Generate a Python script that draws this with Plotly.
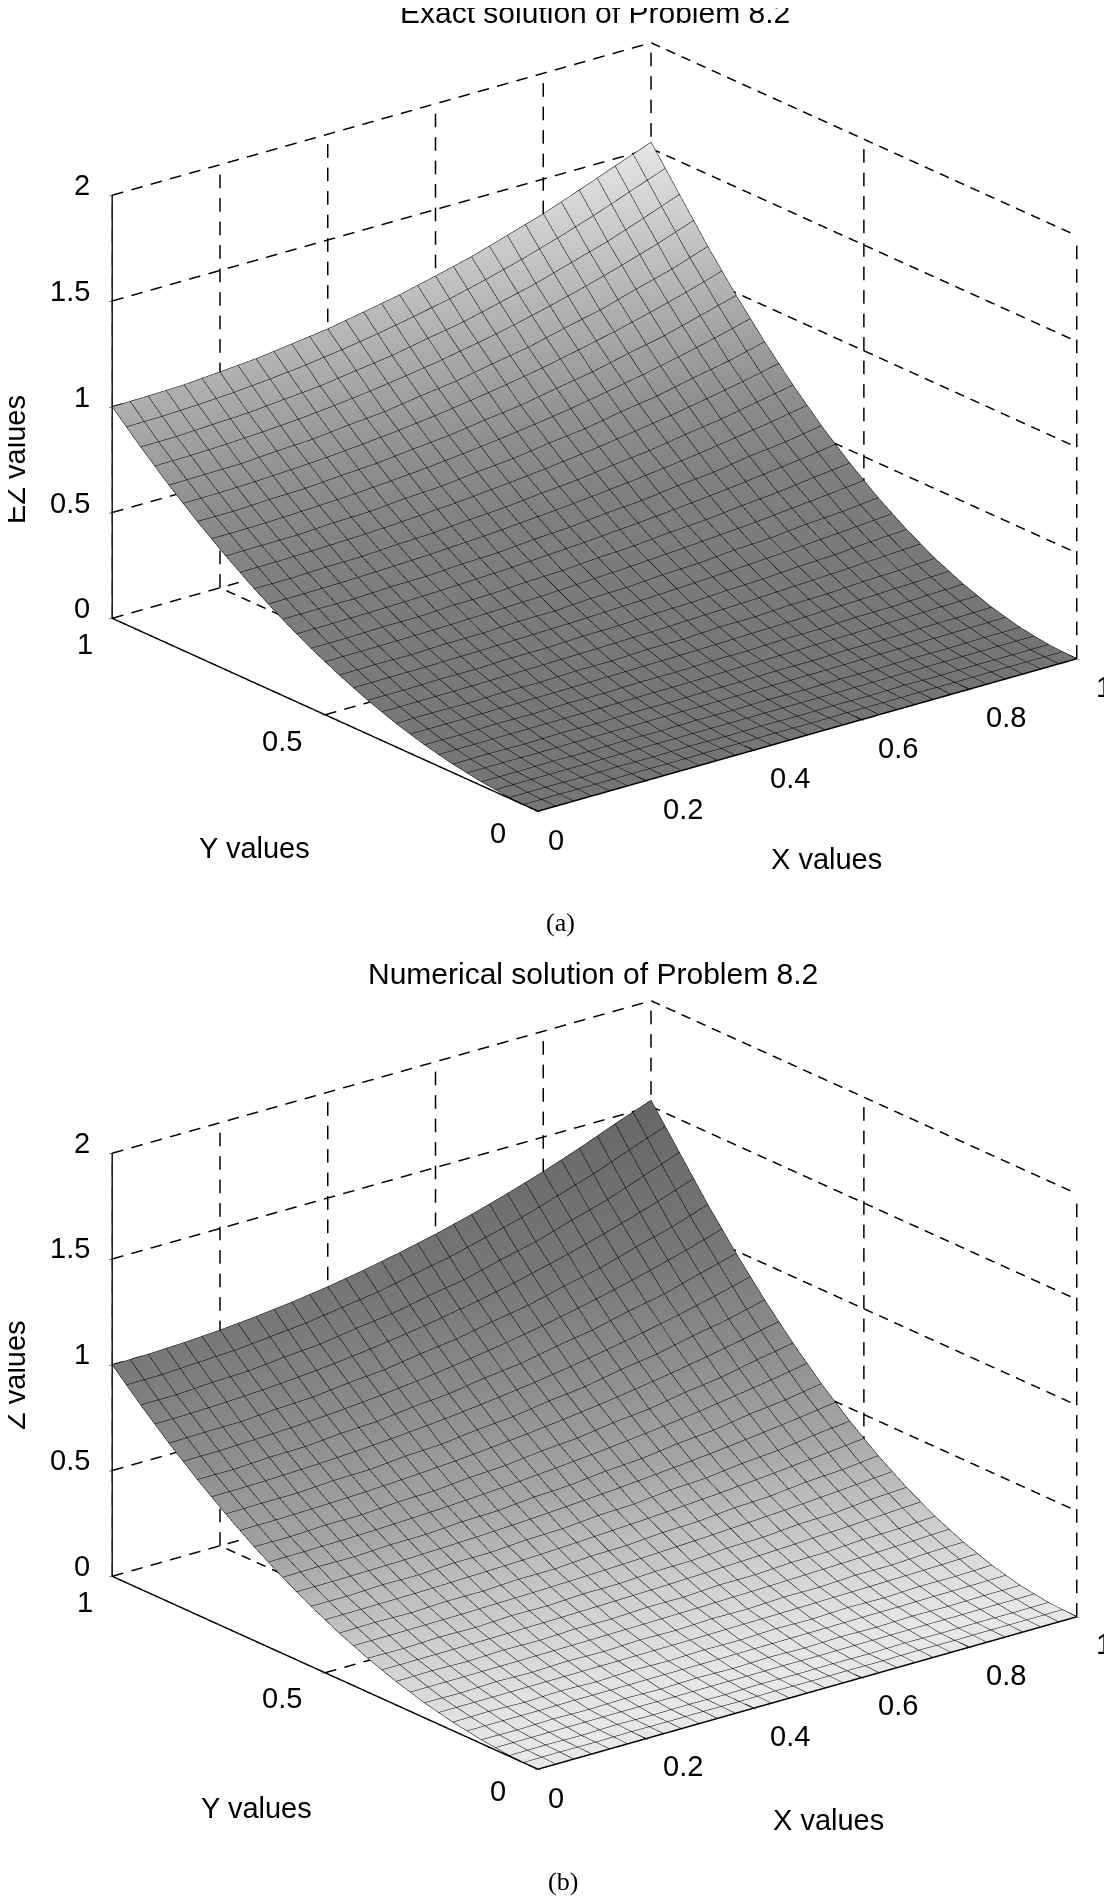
"""Exact and numerical solution surfaces of Problem 8.2."""

import plotly.graph_objects as go

X_NODES = [j / 15 for j in range(16)]
Y_NODES = [i / 15 for i in range(16)]
X_TICKS = [0, 0.2, 0.4, 0.6, 0.8, 1]
Y_TICKS = [0, 0.5, 1]
Z_TICKS = [0, 0.5, 1, 1.5, 2]

# values, rows run along y, columns along x
EXACT_Z = [
    [0.000] * 16,
    [.004, .005, .003, .006, .004, .006, .004, .006, .004, .006, .004, .007, .005, .007, .006, .007],
    [.018, .017, .019, .017, .020, .018, .021, .019, .022, .020, .023, .022, .025, .024, .027, .027],
    [.040, .042, .039, .043, .040, .044, .042, .045, .045, .049, .048, .053, .052, .057, .058, .062],
    [.071, .070, .074, .072, .076, .074, .079, .078, .083, .083, .089, .090, .097, .098, .105, .110],
    [.111, .113, .110, .115, .113, .119, .118, .125, .125, .134, .135, .144, .147, .157, .162, .171],
    [.160, .159, .163, .162, .168, .168, .175, .177, .185, .189, .199, .204, .216, .223, .237, .247],
    [.218, .220, .218, .224, .224, .232, .233, .244, .248, .260, .266, .281, .289, .307, .318, .336],
    [.284, .284, .289, .289, .297, .299, .309, .315, .328, .336, .352, .363, .382, .397, .419, .439],
    [.360, .362, .361, .369, .371, .382, .387, .402, .411, .429, .441, .463, .479, .506, .526, .555],
    [.444, .444, .450, .452, .462, .468, .482, .493, .511, .526, .549, .568, .596, .621, .654, .686],
    [.538, .540, .541, .551, .555, .570, .579, .599, .614, .639, .659, .691, .717, .754, .787, .830],
    [.640, .640, .648, .652, .665, .675, .694, .710, .735, .757, .789, .819, .858, .894, .941, .988],
    [.751, .754, .756, .768, .776, .795, .810, .836, .859, .892, .922, .964, 1.002, 1.053, 1.100, 1.159],
    [.871, .872, .881, .888, .904, .919, .944, .967, 1.000, 1.031, 1.073, 1.115, 1.167, 1.218, 1.280, 1.344],
    [1.000, 1.003, 1.008, 1.021, 1.035, 1.057, 1.080, 1.112, 1.145, 1.186, 1.229, 1.282, 1.336, 1.400, 1.466, 1.530],
]

# values, same grid, a little more uneven
NUMERICAL_Z = [
    [0.000] * 16,
    [.004, .006, .003, .007, .004, .006, .003, .007, .004, .006, .004, .008, .005, .007, .006, .007],
    [.018, .016, .020, .017, .021, .017, .022, .018, .023, .019, .024, .021, .026, .024, .027, .027],
    [.040, .043, .038, .044, .039, .045, .041, .046, .044, .050, .047, .054, .051, .058, .057, .062],
    [.071, .069, .075, .071, .077, .073, .080, .077, .084, .082, .090, .089, .098, .097, .106, .110],
    [.111, .114, .110, .116, .113, .120, .118, .126, .125, .135, .135, .145, .147, .158, .161, .171],
    [.160, .158, .164, .161, .169, .167, .176, .176, .186, .188, .200, .203, .217, .222, .238, .247],
    [.218, .221, .218, .225, .224, .233, .233, .245, .248, .261, .266, .282, .289, .308, .318, .336],
    [.284, .283, .290, .288, .298, .298, .310, .314, .329, .335, .353, .362, .383, .396, .420, .439],
    [.360, .363, .361, .370, .371, .383, .387, .403, .411, .430, .441, .464, .479, .507, .526, .555],
    [.444, .443, .451, .451, .463, .467, .483, .492, .512, .525, .550, .567, .597, .620, .655, .686],
    [.538, .541, .541, .552, .555, .571, .579, .600, .614, .640, .659, .692, .717, .755, .787, .830],
    [.640, .639, .649, .651, .666, .674, .695, .709, .736, .756, .790, .818, .859, .893, .942, .988],
    [.751, .755, .756, .769, .776, .796, .810, .837, .859, .893, .922, .965, 1.002, 1.054, 1.100, 1.159],
    [.871, .871, .882, .887, .905, .918, .945, .966, 1.001, 1.030, 1.074, 1.114, 1.168, 1.217, 1.281, 1.344],
    [1.000, 1.002, 1.009, 1.020, 1.036, 1.056, 1.081, 1.111, 1.146, 1.185, 1.230, 1.281, 1.337, 1.399, 1.467, 1.530],
]

EXACT_GRAYS = [[0.0, "#757575"], [0.3, "#808080"], [0.45, "#909090"], [0.65, "#b0b0b0"], [1.0, "#e8e8e8"]]
NUMERICAL_GRAYS = [[0.0, "#e8e8e8"], [0.065, "#d6d6d6"], [0.26, "#a6a6a6"], [0.45, "#8c8c8c"], [0.65, "#787878"], [1.0, "#666666"]]

EYE = dict(x=-0.70, y=-0.886, z=0.433)
FONT = "Liberation Sans, Arial, sans-serif"
TICK_SIZE = 29

# the page body keeps its 8px margin, so the figure is 8px short on each side
BODY = 8
WIDTH = 1104
HEIGHT = 1889


def grid_lines():
    xs, ys, zs = [], [], []

    # gl3d dashes scale with the line, so the dashes are cut here
    def add(a, b, periods):
        for k in range(periods):
            start = k / periods
            stop = (k + 0.58) / periods
            xs.extend([a[0] + (b[0] - a[0]) * start, a[0] + (b[0] - a[0]) * stop, None])
            ys.extend([a[1] + (b[1] - a[1]) * start, a[1] + (b[1] - a[1]) * stop, None])
            zs.extend([a[2] + (b[2] - a[2]) * start, a[2] + (b[2] - a[2]) * stop, None])

    for x in X_TICKS:
        add((x, 0, 0), (x, 1, 0), 28)
        add((x, 1, 0), (x, 1, 2), 18)
    for y in Y_TICKS:
        add((0, y, 0), (1, y, 0), 28)
        add((1, y, 0), (1, y, 2), 18)
    for z in Z_TICKS:
        add((0, 1, z), (1, 1, z), 28)
        add((1, 1, z), (1, 0, z), 28)
    return go.Scatter3d(
        x=xs, y=ys, z=zs, mode="lines", hoverinfo="skip", showlegend=False,
        line=dict(color="black", width=3),
    )


def surface(z_rows, grays):
    return go.Surface(
        x=X_NODES, y=Y_NODES, z=z_rows, colorscale=grays, cmin=0, cmax=1.543,
        showscale=False, hoverinfo="skip",
        lighting=dict(ambient=1, diffuse=0, specular=0, fresnel=0),
        contours=dict(
            x=dict(show=True, start=0, end=1, size=1 / 30, color="#000000", width=2),
            y=dict(show=True, start=0, end=1, size=1 / 30, color="#000000", width=4),
        ),
    )


def tick_text(x, y, z, text, dx, dy, anchor="center"):
    return dict(
        x=x, y=y, z=z, text=text, showarrow=False, xshift=dx, yshift=dy, xanchor=anchor,
        font=dict(family=FONT, size=TICK_SIZE, color="black"),
    )


def tick_labels():
    labels = []
    for value in X_TICKS:
        dx = {0: 18, 1: 27}.get(value, 37)
        dy = -29 if value == 0 else -28
        labels.append(tick_text(value, 0, 0, str(value), dx, dy))
    for value in Y_TICKS:
        dx = {0: -40, 1: -27}.get(value, -43)
        dy = -22 if value == 0 else -26
        labels.append(tick_text(0, value, 0, str(value), dx, dy))
    for value in Z_TICKS:
        labels.append(tick_text(0, 1, value, str(value), -20, 10, "right"))
    return labels


def scene(top, bottom):
    axis = dict(
        title="", showgrid=False, showbackground=False, zeroline=False, showspikes=False,
        showline=True, linecolor="black", linewidth=3, ticks="outside", ticklen=4,
        tickcolor="black", showticklabels=False,
    )
    return dict(
        domain=dict(
            x=[(77 - BODY) / WIDTH, 1],
            y=[1 - (bottom - BODY) / HEIGHT, 1 - (top - BODY) / HEIGHT],
        ),
        xaxis=dict(axis, range=[0, 1], tickvals=X_TICKS),
        yaxis=dict(axis, range=[0, 1], tickvals=Y_TICKS),
        zaxis=dict(axis, range=[0, 2], tickvals=Z_TICKS),
        aspectmode="manual", aspectratio=dict(x=1.643, y=1.643, z=1.084),
        camera=dict(eye=EYE, up=dict(x=0, y=0, z=1), projection=dict(type="orthographic")),
        annotations=tick_labels(),
    )


def label(x, y, text, size=TICK_SIZE, angle=0, family=FONT):
    return dict(
        x=(x - BODY) / WIDTH, y=1 - (y - BODY) / HEIGHT, xref="paper", yref="paper",
        text=text, showarrow=False, xanchor="center", yanchor="middle",
        textangle=angle, font=dict(family=family, size=size, color="black"),
    )


fig = go.Figure()
fig.add_trace(grid_lines().update(scene="scene"))
fig.add_trace(surface(EXACT_Z, EXACT_GRAYS).update(scene="scene"))
fig.add_trace(grid_lines().update(scene="scene2"))
fig.add_trace(surface(NUMERICAL_Z, NUMERICAL_GRAYS).update(scene="scene2"))

fig.update_layout(
    width=WIDTH, height=HEIGHT, margin=dict(l=0, r=0, t=0, b=0),
    paper_bgcolor="white", showlegend=False,
    scene=scene(9, 845),
    scene2=scene(966.5, 1802.5),
    annotations=[
        label(595, 12, "Exact solution of Problem 8.2", 30),
        label(593, 973, "Numerical solution of Problem 8.2", 30),
        label(15, 460, "EZ values", TICK_SIZE, -90),
        label(15, 1375, "Z values", TICK_SIZE, -90),
        label(254, 848, "Y values"),
        label(256, 1808, "Y values"),
        label(826, 859, "X values"),
        label(828, 1820, "X values"),
        label(560, 922, "(a)", 26, family="Liberation Serif, serif"),
        label(563, 1881, "(b)", 26, family="Liberation Serif, serif"),
    ],
)

fig.write_html("out.html")
